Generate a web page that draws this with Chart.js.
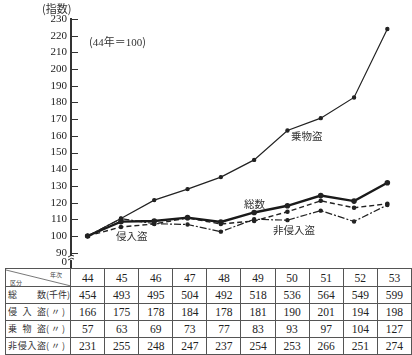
<!DOCTYPE html>
<html><head><meta charset="utf-8">
<script src="https://cdn.jsdelivr.net/npm/chart.js@4.4.1/dist/chart.umd.min.js"></script>
<style>
html,body{margin:0;padding:0;background:#fff;}
body{width:412px;height:355px;position:relative;overflow:hidden;font-family:"Liberation Serif","DejaVu Serif","Noto Sans CJK JP",serif;color:#222;}
#wrap{position:absolute;left:0;top:0;width:412px;height:279px;}
.lbl{position:absolute;font-family:"Noto Sans CJK JP",sans-serif;font-size:10.5px;line-height:12px;color:#333;white-space:nowrap;}
.num{font-family:"Liberation Serif","Noto Sans CJK JP",serif;}
table{position:absolute;left:5px;top:268px;border-collapse:collapse;table-layout:fixed;font-size:11.5px;background:#fff;}
td{border:1px solid #555;text-align:center;padding:0;height:16px;line-height:16px;color:#222;overflow:hidden;}
td.rh{font-family:"Noto Sans CJK JP",sans-serif;font-size:9px;text-align:left;padding-left:2px;white-space:nowrap;color:#333;}
td.rh .nm{display:inline-block;width:38px;text-align:justify;text-align-last:justify;}
tr.hd td{height:17px;}
td.diag{position:relative;}
</style></head>
<body>
<div id="wrap"><canvas id="c" width="412" height="279"></canvas></div>
<div class="lbl" style="left:42px;top:2px;font-size:11px;">(指数)</div>
<div class="lbl" style="left:89px;top:35px;font-size:11px;">(<span class="num">44</span>年＝<span class="num">100</span>)</div>
<div class="lbl" style="left:291px;top:130px;">乗物盗</div>
<div class="lbl" style="left:244px;top:198px;">総数</div>
<div class="lbl" style="left:273px;top:224px;">非侵入盗</div>
<div class="lbl" style="left:116px;top:230px;">侵入盗</div>
<table id="tbl"></table>
<script>
const years = ['44','45','46','47','48','49','50','51','52','53'];
// index values (44年=100)
const totalIndex       = [100, 108.6, 109.0, 111.0, 108.4, 114.1, 118.1, 124.2, 120.9, 131.9];
const invasionIndex    = [100, 105.4, 107.2, 110.8, 107.2, 109.0, 114.5, 121.1, 116.9, 119.3];
const vehicleIndex     = [100, 110.5, 121.5, 128.1, 135.3, 145.6, 163.2, 170.6, 183.0, 224.0];
const nonInvasionIndex = [100, 110.4, 107.4, 106.9, 102.6, 110.0, 109.5, 115.2, 108.7, 118.6];
// table counts (千件)
const totalCounts       = [454, 493, 495, 504, 492, 518, 536, 564, 549, 599];
const invasionCounts    = [166, 175, 178, 184, 178, 181, 190, 201, 194, 198];
const vehicleCounts     = [57, 63, 69, 73, 77, 83, 93, 97, 104, 127];
const nonInvasionCounts = [231, 255, 248, 247, 237, 254, 253, 266, 251, 274];
const rowNames = ['総数', '侵入盗', '乗物盗', '非侵入盗'];
const rowUnits = ['(千件)', '( 〃 )', '( 〃 )', '( 〃 )'];
const yTickValues = [84.4, 90, 100, 110, 120, 130, 140, 150, 160, 170, 180, 190, 200, 210, 220, 230];
const BREAK_VALUE = 84.4;
const Y_TOP_VALUE = 230, Y_TOP_PX = 19, Y_REF_VALUE = 100, Y_REF_PX = 236;

// build table
(function(){
  const t = document.getElementById('tbl');
  let cg = '<colgroup><col style="width:65px">';
  for (let i=0;i<years.length;i++) cg += '<col style="width:34.1px">';
  cg += '</colgroup>';
  let h = cg + '<tr class="hd"><td class="diag"><svg width="65" height="18" style="position:absolute;left:0;top:0"><line x1="0" y1="1" x2="65" y2="17" stroke="#555" stroke-width="0.8"/><text x="44" y="8" font-size="6" fill="#444" font-family="Noto Sans CJK JP">年次</text><text x="4" y="16" font-size="6" fill="#444" font-family="Noto Sans CJK JP">区分</text></svg></td>';
  years.forEach(y=>{ h += '<td>'+y+'</td>'; });
  h += '</tr>';
  const rows = [totalCounts, invasionCounts, vehicleCounts, nonInvasionCounts];
  rows.forEach((r,i)=>{
    h += '<tr><td class="rh"><span class="nm">'+rowNames[i]+'</span>'+rowUnits[i]+'</td>';
    r.forEach(v=>{ h += '<td>'+v+'</td>'; });
    h += '</tr>';
  });
  t.innerHTML = h;
})();

const tickPlugin = {
  id: 'tickPlugin',
  afterDraw(chart){
    const ctx = chart.ctx, ys = chart.scales.y, ca = chart.chartArea;
    ctx.save();
    ctx.strokeStyle = '#333';
    // axis line from top tick to bottom
    ctx.lineWidth = 2;
    ctx.beginPath(); ctx.moveTo(ca.left, ys.getPixelForValue(Y_TOP_VALUE) - 1); ctx.lineTo(ca.left, ca.bottom); ctx.stroke();
    ctx.lineWidth = 1;
    ys.ticks.forEach(t=>{
      if (t.value === BREAK_VALUE) return;
      const py = Math.round(ys.getPixelForValue(t.value)) + 0.5;
      ctx.beginPath(); ctx.moveTo(ca.left, py); ctx.lineTo(ca.left + 7, py); ctx.stroke();
    });
    // axis break mark
    const by = ys.getPixelForValue(BREAK_VALUE);
    ctx.fillStyle = '#fff';
    ctx.fillRect(ca.left - 2, by - 6, 5, 4);
    ctx.beginPath();
    ctx.moveTo(ca.left - 3, by - 5); ctx.quadraticCurveTo(ca.left + 1, by - 8, ca.left + 3, by - 6);
    ctx.moveTo(ca.left - 3, by - 2); ctx.quadraticCurveTo(ca.left + 1, by - 5, ca.left + 3, by - 3);
    ctx.stroke();
    ctx.restore();
  }
};

const common = {pointRadius:1.6, pointHoverRadius:1.6, pointBackgroundColor:'#222', pointBorderColor:'#222', tension:0, fill:false};
const chart = new Chart(document.getElementById('c'), {
  type: 'line',
  data: {
    labels: years,
    datasets: [
      Object.assign({label:'乗物盗', data: vehicleIndex, borderColor:'#222', borderWidth:1.2}, common),
      Object.assign({label:'総数', data: totalIndex, borderColor:'#1a1a1a', borderWidth:2.4}, common),
      Object.assign({label:'侵入盗', data: invasionIndex, borderColor:'#222', borderWidth:1.4, borderDash:[5,3]}, common),
      Object.assign({label:'非侵入盗', data: nonInvasionIndex, borderColor:'#222', borderWidth:1.2, borderDash:[7,2,2,2]}, common)
    ]
  },
  options: {
    responsive:false, animation:false,
    layout:{padding:{top:8, right:8, bottom:3, left:0}},
    plugins:{legend:{display:false}, tooltip:{enabled:false}},
    scales:{
      x:{display:false, offset:true},
      y:{
        min:80, max:236,
        afterFit(s){ s.width = 71; },
        afterBuildTicks(s){ s.ticks = yTickValues.map(v=>({value:v})); },
        border:{display:false},
        grid:{display:false, drawOnChartArea:false, drawTicks:false},
        ticks:{padding:4, color:'#222', font:{family:'"Liberation Serif", serif', size:11},
          callback(v){ return v === BREAK_VALUE ? '0' : String(v); }}
      }
    }
  },
  plugins:[tickPlugin]
});
// fit the value range so that 230 and 100 land where the reference puts them
(function(){
  const ca = chart.chartArea;
  const k = (Y_REF_PX - Y_TOP_PX) / (Y_TOP_VALUE - Y_REF_VALUE);
  chart.options.scales.y.max = Y_TOP_VALUE + (Y_TOP_PX - ca.top) / k;
  chart.options.scales.y.min = Y_REF_VALUE - (ca.bottom - Y_REF_PX) / k;
  chart.update('none');
})();
</script>
</body></html>
